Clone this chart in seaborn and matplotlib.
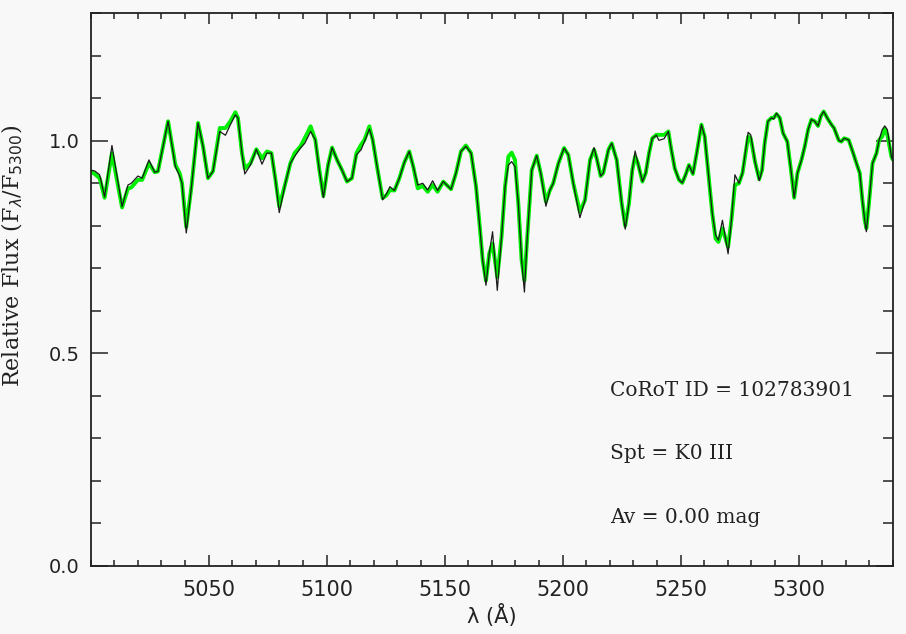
import numpy as np
import pandas as pd
import matplotlib
matplotlib.use("Agg")
import matplotlib.pyplot as plt
import seaborn as sns
from matplotlib.ticker import FixedLocator, MultipleLocator

# Wavelength grid (Angstrom) and the two spectra (observed = black, template = green)
wavelength = [
    5000.0, 5001.7, 5003.8, 5005.9, 5009.0, 5013.3, 5015.8, 5017.2, 5020.0, 5021.8,
    5024.7, 5027.1, 5028.5, 5032.8, 5035.9, 5037.7, 5038.7, 5040.5, 5042.7, 5045.5,
    5047.6, 5049.7, 5051.8, 5054.7, 5057.1,
    5059.2, 5061.3, 5062.4, 5064.1, 5065.3, 5067.7, 5070.2, 5072.6, 5074.7, 5076.6,
    5078.3, 5079.9, 5082.5, 5084.6, 5086.4, 5088.9, 5090.7, 5093.2, 5095.2, 5096.9,
    5098.6, 5100.6, 5102.3, 5104.4, 5106.5, 5108.6, 5110.7,
    5112.6, 5114.6, 5116.0, 5118.1, 5119.5, 5121.6, 5123.7, 5125.4, 5126.8, 5128.7,
    5130.8, 5132.9, 5135.0, 5136.7, 5138.6, 5140.7, 5142.8, 5144.9, 5147.0, 5149.4,
    5152.7, 5154.8, 5156.9, 5159.0, 5161.2, 5163.3, 5165.0, 5166.1, 5167.5, 5168.9,
    5170.3, 5172.3, 5174.1, 5175.6, 5177.0, 5178.4, 5179.8, 5181.2, 5182.6, 5183.8,
    5185.0, 5186.9, 5189.0, 5190.7, 5192.9, 5194.6, 5196.0, 5198.2, 5200.6, 5202.4,
    5204.5, 5207.3, 5209.5, 5211.6, 5213.3, 5214.4, 5216.1, 5217.2, 5219.4, 5220.8,
    5222.9, 5225.0, 5226.5,
    5228.1, 5229.5, 5230.7, 5231.9, 5233.8, 5235.2, 5236.6, 5238.0, 5239.7, 5240.8,
    5243.0, 5244.8, 5245.8, 5247.5, 5249.3, 5250.7, 5252.1, 5253.5, 5255.2, 5256.8,
    5258.8, 5260.2, 5262.0, 5263.4, 5264.8, 5266.0, 5267.7, 5270.1, 5271.5, 5273.0,
    5274.7, 5276.2, 5278.6, 5279.7, 5281.5,
    5283.3, 5284.5, 5285.6, 5287.0, 5288.5, 5289.4, 5290.6, 5292.0, 5293.4, 5295.2,
    5296.2, 5296.9, 5298.1, 5299.5, 5301.2, 5302.6, 5304.0, 5305.4, 5306.8, 5308.2,
    5309.4, 5310.6, 5312.5, 5313.9, 5315.0, 5317.0, 5318.1, 5319.3, 5321.2, 5323.1,
    5324.5, 5325.9, 5327.0, 5328.0, 5328.7, 5329.8, 5331.3, 5333.0, 5334.1, 5335.4,
    5336.5, 5337.6, 5339.3, 5340.0,
]

flux_observed = [
    0.931, 0.929, 0.920, 0.868, 0.989, 0.845, 0.896, 0.900, 0.917, 0.912,
    0.955, 0.926, 0.928, 1.046, 0.939, 0.917, 0.900, 0.783, 0.892, 1.042,
    0.987, 0.912, 0.928, 1.022, 1.013,
    1.038, 1.061, 1.054, 0.971, 0.922, 0.943, 0.980, 0.945, 0.971, 0.971,
    0.908, 0.831, 0.900, 0.947, 0.963, 0.983, 0.994, 1.022, 1.002, 0.931,
    0.866, 0.943, 0.984, 0.955, 0.931, 0.904, 0.912,
    0.967, 0.979, 0.998, 1.028, 1.002, 0.931, 0.861, 0.876, 0.892, 0.883,
    0.912, 0.949, 0.975, 0.939, 0.896, 0.900, 0.884, 0.906, 0.883, 0.904,
    0.886, 0.924, 0.975, 0.987, 0.971, 0.892, 0.790, 0.719, 0.660, 0.735,
    0.786, 0.648, 0.774, 0.892, 0.943, 0.951, 0.939, 0.853, 0.719, 0.644,
    0.774, 0.931, 0.965, 0.924, 0.846, 0.884, 0.900, 0.947, 0.983, 0.967,
    0.900, 0.819, 0.861, 0.955, 0.984, 0.959, 0.917, 0.924, 0.979, 0.994,
    0.955, 0.853, 0.792,
    0.853, 0.931, 0.976, 0.947, 0.904, 0.924, 0.971, 1.006, 1.013, 1.001,
    1.005, 1.022, 0.987, 0.935, 0.908, 0.901, 0.920, 0.943, 0.922, 0.971,
    1.038, 1.010, 0.908, 0.829, 0.778, 0.766, 0.813, 0.734, 0.813, 0.920,
    0.900, 0.924, 1.020, 1.014, 0.951,
    0.906, 0.931, 0.994, 1.046, 1.054, 1.051, 1.065, 1.054, 1.018, 0.998,
    0.955, 0.924, 0.866, 0.924, 0.955, 0.987, 1.026, 1.050, 1.046, 1.035,
    1.058, 1.069, 1.050, 1.038, 1.030, 1.001, 0.998, 1.006, 1.002, 0.971,
    0.947, 0.924, 0.861, 0.813, 0.786, 0.853, 0.947, 0.971, 1.002, 1.026,
    1.035, 1.026, 0.963, 0.951,
]

flux_template = [
    0.928, 0.922, 0.912, 0.866, 0.971, 0.843, 0.888, 0.890, 0.908, 0.908,
    0.947, 0.926, 0.928, 1.046, 0.943, 0.924, 0.900, 0.797, 0.892, 1.042,
    0.987, 0.912, 0.928, 1.030, 1.030,
    1.046, 1.067, 1.054, 0.971, 0.935, 0.947, 0.980, 0.959, 0.975, 0.971,
    0.908, 0.845, 0.900, 0.947, 0.971, 0.987, 1.006, 1.034, 1.002, 0.931,
    0.870, 0.943, 0.984, 0.955, 0.931, 0.904, 0.912,
    0.971, 0.991, 1.002, 1.034, 1.002, 0.931, 0.865, 0.872, 0.884, 0.883,
    0.912, 0.949, 0.975, 0.939, 0.888, 0.894, 0.880, 0.896, 0.880, 0.904,
    0.886, 0.924, 0.975, 0.989, 0.971, 0.892, 0.790, 0.719, 0.671, 0.735,
    0.758, 0.679, 0.774, 0.892, 0.963, 0.972, 0.955, 0.853, 0.719, 0.671,
    0.774, 0.931, 0.965, 0.924, 0.857, 0.884, 0.900, 0.947, 0.983, 0.967,
    0.900, 0.833, 0.861, 0.955, 0.979, 0.959, 0.917, 0.924, 0.979, 0.994,
    0.955, 0.853, 0.800,
    0.853, 0.931, 0.963, 0.947, 0.904, 0.924, 0.971, 1.006, 1.014, 1.014,
    1.014, 1.022, 0.987, 0.935, 0.908, 0.901, 0.920, 0.943, 0.922, 0.971,
    1.038, 1.010, 0.908, 0.829, 0.770, 0.762, 0.794, 0.750, 0.813, 0.896,
    0.900, 0.924, 1.010, 1.006, 0.951,
    0.910, 0.931, 0.994, 1.046, 1.054, 1.054, 1.063, 1.054, 1.018, 0.998,
    0.955, 0.924, 0.866, 0.924, 0.955, 0.987, 1.026, 1.050, 1.046, 1.035,
    1.058, 1.069, 1.050, 1.038, 1.030, 1.001, 0.998, 1.006, 1.002, 0.971,
    0.947, 0.924, 0.861, 0.813, 0.794, 0.853, 0.947, 0.971, 1.002, 1.010,
    1.028, 1.014, 0.963, 0.955,
]

x_major_ticks = [5050, 5100, 5150, 5200, 5250, 5300]
y_major_ticks = [0.0, 0.5, 1.0]
y_tick_labels = ["0.0", "0.5", "1.0"]
annotations = ["CoRoT ID = 102783901", "Spt = K0 III", "Av = 0.00 mag"]

df = pd.DataFrame({"wl": wavelength, "obs": flux_observed, "tpl": flux_template})

bg = "#f8f8f8"
sns.set_theme(style="ticks")
plt.rcParams["font.family"] = ["DejaVu Sans"]
plt.rcParams["mathtext.fontset"] = "dejavusans"

fig = plt.figure(figsize=(9.06, 6.34), dpi=100, facecolor=bg)
ax = fig.add_axes([0.1001, 0.1077, 0.8856, 0.8713])
ax.set_facecolor(bg)

sns.lineplot(data=df, x="wl", y="tpl", ax=ax, color="#00ee00", lw=2.8,
             estimator=None, sort=False)
sns.lineplot(data=df, x="wl", y="obs", ax=ax, color="#1a1a1a", lw=0.9,
             estimator=None, sort=False)

ax.set_xlim(5000, 5340)
ax.set_ylim(0, 1.3)

ax.xaxis.set_major_locator(FixedLocator(x_major_ticks))
ax.xaxis.set_minor_locator(MultipleLocator(10))
ax.yaxis.set_major_locator(FixedLocator(y_major_ticks))
ax.set_yticklabels(y_tick_labels)
ax.yaxis.set_minor_locator(MultipleLocator(0.1))

ax.tick_params(axis="x", which="both", direction="in", top=True, bottom=True,
               colors="#222222", labelcolor="#222222", width=1.1)
ax.tick_params(axis="x", which="major", length=8, labelsize=15, pad=10)
ax.tick_params(axis="x", which="minor", length=4)
ax.tick_params(axis="y", which="both", direction="in", left=True, right=True,
               colors="#222222", labelcolor="#222222", width=1.1)
ax.tick_params(axis="y", which="major", length=12, labelsize=14, pad=8)
ax.tick_params(axis="y", which="minor", length=7)

for s in ax.spines.values():
    s.set_color("#222222")
    s.set_linewidth(1.3)

ax.set_xlabel("λ (Å)", fontsize=15, color="#222222", labelpad=3)
ax.set_ylabel(r"Relative Flux (F$_\lambda$/F$_{5300}$)", fontsize=16,
              color="#222222", family="DejaVu Serif")
ax.yaxis.set_label_coords(-0.082, 0.56)

ypos = [0.318, 0.204, 0.088]
for txt, yy in zip(annotations, ypos):
    ax.text(0.647, yy, txt, transform=ax.transAxes, ha="left", va="center",
            fontsize=14.5, family="DejaVu Serif", color="#222222")

fig.savefig("out.png", dpi=100, facecolor=bg)
